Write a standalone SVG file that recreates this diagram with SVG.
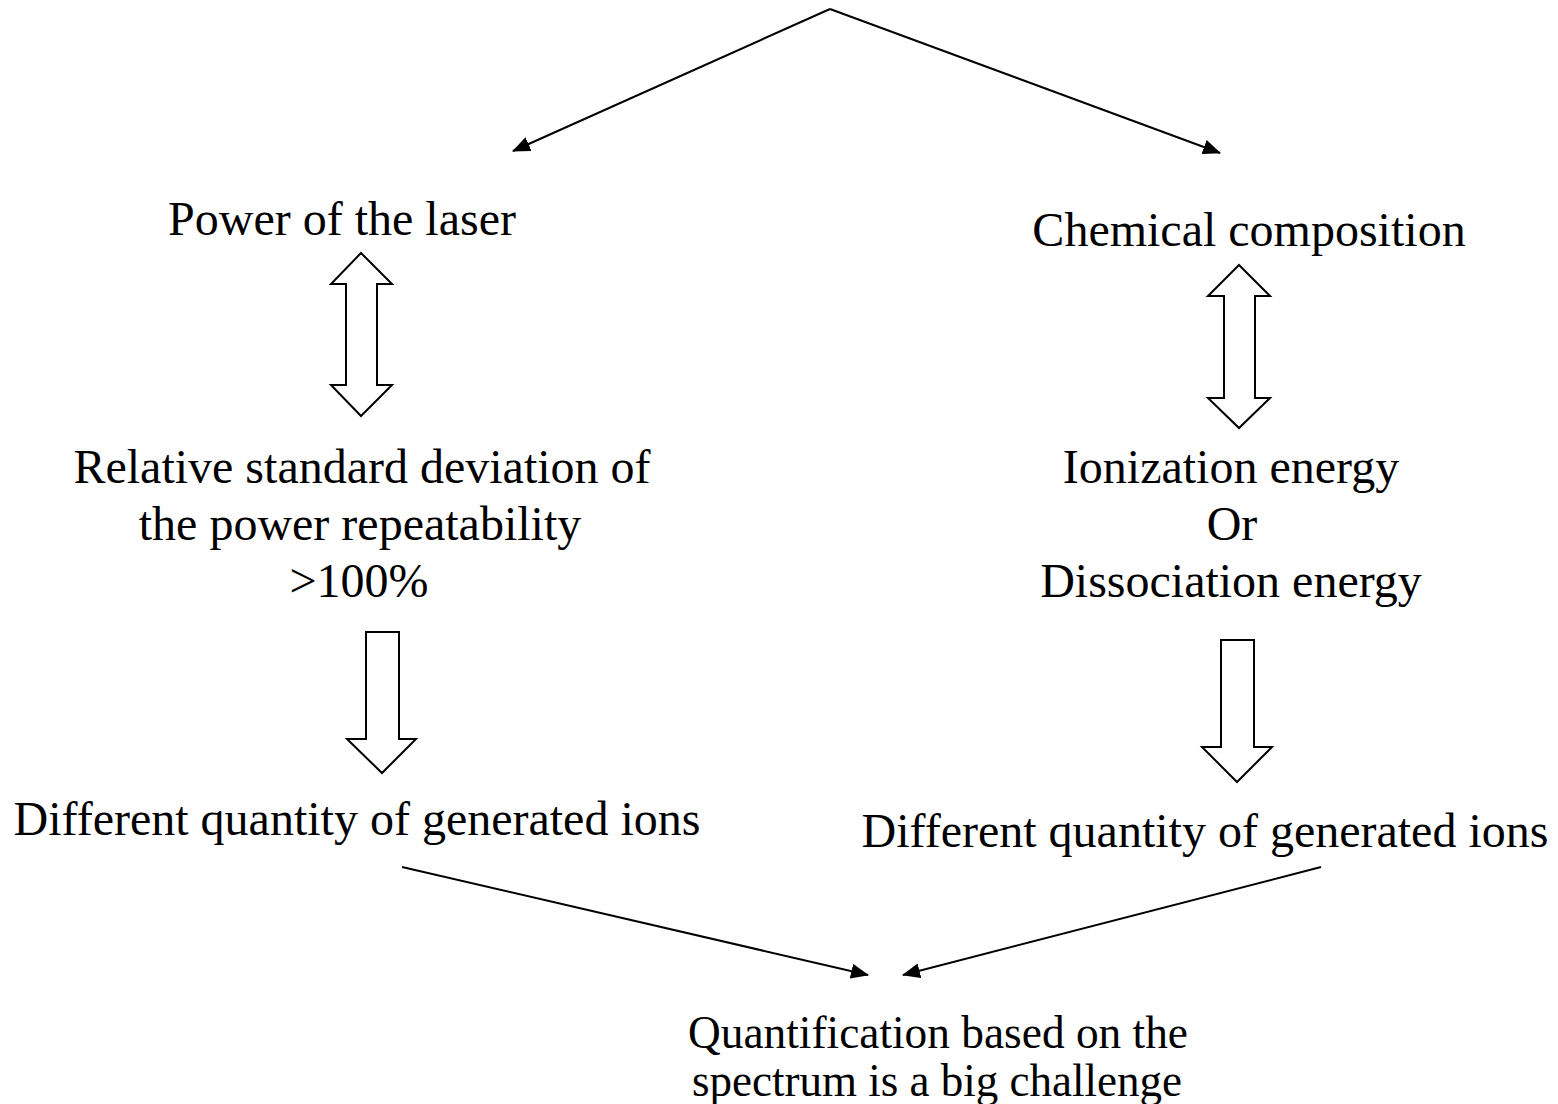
<svg xmlns="http://www.w3.org/2000/svg" width="1558" height="1104" viewBox="0 0 1558 1104">
<style>
text{font-family:"Liberation Serif","Times New Roman",serif;font-size:48px;fill:#000;text-anchor:middle}
.q{font-size:47px}
.c{stroke:#000;stroke-width:2;fill:none}
.b{stroke:#000;stroke-width:2;fill:#fff;stroke-linejoin:miter}
</style>
<defs>
<marker id="ah" viewBox="0 0 18 15" refX="17" refY="7.5" markerWidth="18" markerHeight="15" markerUnits="userSpaceOnUse" orient="auto"><path d="M0,0 L18,7.5 L0,15 z" fill="#000"/></marker>
</defs>
<rect width="1558" height="1104" fill="#fff"/>
<g id="connectors">
<path class="c" d="M830,9 L513,151" marker-end="url(#ah)"/>
<path class="c" d="M830,9 L1220,153" marker-end="url(#ah)"/>
<path class="c" d="M402,867 L868,975" marker-end="url(#ah)"/>
<path class="c" d="M1321,867 L903,975" marker-end="url(#ah)"/>
<path id="dbl-left" class="b" d="M361,253 L392,284 L377,284 L377,385 L392,385 L361,416 L331,385 L346,385 L346,284 L331,284 Z"/>
<path id="dbl-right" class="b" d="M1239,265 L1270,296 L1255,296 L1255,398 L1270,398 L1239,428 L1208,398 L1224,398 L1224,296 L1208,296 Z"/>
<path id="down-left" class="b" d="M366,632 L399,632 L399,739 L416,739 L382,773 L347,739 L366,739 Z"/>
<path id="down-right" class="b" d="M1221,640 L1254,640 L1254,747 L1272,747 L1237,782 L1202,747 L1221,747 Z"/>
</g>
<g id="n-power"><text x="342" y="235">Power of the laser</text></g>
<g id="n-chem"><text x="1249" y="246">Chemical composition</text></g>
<g id="n-rsd"><text x="362" y="483">Relative standard deviation of</text><text x="360" y="540">the power repeatability</text><text x="359" y="597">&gt;100%</text></g>
<g id="n-ion"><text x="1231" y="483">Ionization energy</text><text x="1232" y="540">Or</text><text x="1231" y="597">Dissociation energy</text></g>
<g id="n-diff-left"><text x="357" y="835">Different quantity of generated ions</text></g>
<g id="n-diff-right"><text x="1205" y="847">Different quantity of generated ions</text></g>
<g id="n-quant"><text class="q" x="938" y="1048" textLength="500" lengthAdjust="spacingAndGlyphs">Quantification based on the</text><text class="q" x="937" y="1096" textLength="490" lengthAdjust="spacingAndGlyphs">spectrum is a big challenge</text></g>
</svg>
